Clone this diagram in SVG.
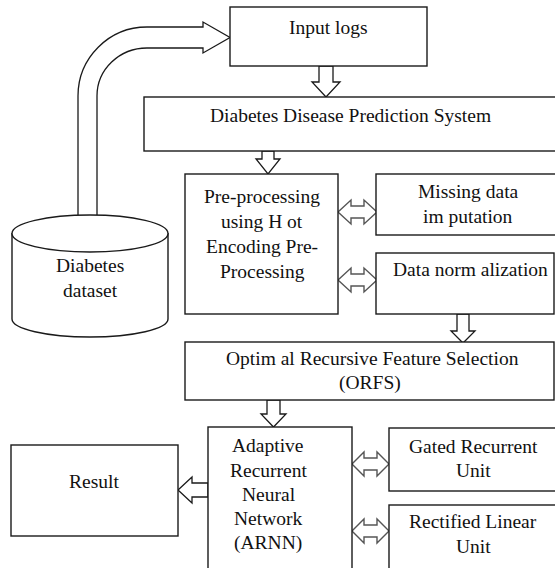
<svg xmlns="http://www.w3.org/2000/svg" width="555" height="568" viewBox="0 0 555 568">
  <rect width="555" height="568" fill="#ffffff"/>

  <!-- connectors: white block arrows with dark outlines -->
  <g id="connectors" fill="#ffffff" stroke="#1a1a1a" stroke-width="1.3" stroke-linejoin="miter">
    <!-- dataset to input logs, curved block arrow -->
    <path d="M 78 215 L 78 96 A 69 69 0 0 1 147 27 L 203 27 L 203 22 L 230 37.5 L 203 53 L 203 48 L 147 48 A 50 48 0 0 0 97 96 L 97 215"/>
    <!-- input logs down to prediction system -->
    <path d="M 319 66 L 333 66 L 333 82 L 340 82 L 326 97 L 312 82 L 319 82 Z"/>
    <!-- prediction system down to pre-processing -->
    <path d="M 262 151 L 274 151 L 274 159 L 280 159 L 268 174 L 256 159 L 262 159 Z"/>
    <!-- data normalization down to ORFS -->
    <path d="M 457 314 L 469 314 L 469 331 L 475 331 L 463 343 L 451 331 L 457 331 Z"/>
    <!-- ORFS down to ARNN -->
    <path d="M 267 400 L 280 400 L 280 414 L 286 414 L 273.5 427 L 261 414 L 267 414 Z"/>
    <!-- ARNN left to result -->
    <path d="M 208 483 L 192 483 L 192 477 L 178 490 L 192 503 L 192 497 L 208 497 Z"/>
    <!-- two-way links -->
    <g stroke="#555555" stroke-width="1.4">
      <path d="M 338 212 L 351 200 L 351 206 L 364 206 L 364 200 L 377 212 L 364 224 L 364 218 L 351 218 L 351 224 Z"/>
      <path d="M 338 280 L 351 268 L 351 274 L 364 274 L 364 268 L 377 280 L 364 292 L 364 286 L 351 286 L 351 292 Z"/>
      <path d="M 352 464 L 364 452 L 364 458 L 377 458 L 377 452 L 389 464 L 377 476 L 377 470 L 364 470 L 364 476 Z"/>
      <path d="M 352 531 L 364 519 L 364 525 L 377 525 L 377 519 L 389 531 L 377 543 L 377 537 L 364 537 L 364 543 Z"/>
    </g>
  </g>

  <!-- nodes: outlined shapes with serif labels (x values are left edges of centred lines) -->
  <g id="dataset">
    <path d="M 12 233 L 12 319 A 78 18 0 0 0 168 319 L 168 233" fill="#ffffff" stroke="#1a1a1a" stroke-width="1.4"/>
    <ellipse cx="90" cy="233.5" rx="78" ry="18.5" fill="#ffffff" stroke="#1a1a1a" stroke-width="1.4"/>
    <text x="56" y="272" font-size="19.5" font-family="Liberation Serif" fill="#111111">Diabetes</text>
    <text x="63" y="297" font-size="19.5" font-family="Liberation Serif" fill="#111111">dataset</text>
  </g>

  <g id="input-logs">
    <rect x="230" y="7" width="197" height="59" fill="#ffffff" stroke="#1a1a1a" stroke-width="1.4"/>
    <text x="289" y="34" font-size="19.5" font-family="Liberation Serif" fill="#111111">Input logs</text>
  </g>

  <g id="prediction-system">
    <rect x="144" y="97" width="416" height="54" fill="#ffffff" stroke="#1a1a1a" stroke-width="1.4"/>
    <text x="210" y="122" font-size="19.5" font-family="Liberation Serif" fill="#111111">Diabetes Disease Prediction System</text>
  </g>

  <g id="pre-processing">
    <rect x="185" y="174" width="153" height="140" fill="#ffffff" stroke="#1a1a1a" stroke-width="1.4"/>
    <text x="204" y="203" font-size="19.5" font-family="Liberation Serif" fill="#111111">Pre-processing</text>
    <text x="221" y="228" font-size="19.5" font-family="Liberation Serif" fill="#111111">using H ot</text>
    <text x="206" y="253" font-size="19.5" font-family="Liberation Serif" fill="#111111">Encoding Pre-</text>
    <text x="220" y="278" font-size="19.5" font-family="Liberation Serif" fill="#111111">Processing</text>
  </g>

  <g id="missing-data">
    <rect x="376" y="174" width="184" height="61" fill="#ffffff" stroke="#1a1a1a" stroke-width="1.4"/>
    <text x="418" y="198" font-size="19.5" font-family="Liberation Serif" fill="#111111">Missing data</text>
    <text x="423" y="223" font-size="19.5" font-family="Liberation Serif" fill="#111111">im putation</text>
  </g>

  <g id="normalization">
    <rect x="376" y="253" width="178" height="61" fill="#ffffff" stroke="#1a1a1a" stroke-width="1.4"/>
    <text x="393" y="276" font-size="19.5" font-family="Liberation Serif" fill="#111111">Data norm alization</text>
  </g>

  <g id="orfs">
    <rect x="185" y="342" width="369" height="58" fill="#ffffff" stroke="#1a1a1a" stroke-width="1.4"/>
    <text x="226" y="365" font-size="19.5" font-family="Liberation Serif" fill="#111111">Optim al Recursive Feature Selection</text>
    <text x="339" y="389" font-size="19.5" font-family="Liberation Serif" fill="#111111">(ORFS)</text>
  </g>

  <g id="arnn">
    <rect x="208" y="427" width="144" height="150" fill="#ffffff" stroke="#1a1a1a" stroke-width="1.4"/>
    <text x="232" y="452" font-size="19.5" font-family="Liberation Serif" fill="#111111">Adaptive</text>
    <text x="230" y="477" font-size="19.5" font-family="Liberation Serif" fill="#111111">Recurrent</text>
    <text x="242" y="501" font-size="19.5" font-family="Liberation Serif" fill="#111111">Neural</text>
    <text x="234" y="525" font-size="19.5" font-family="Liberation Serif" fill="#111111">Network</text>
    <text x="234" y="549" font-size="19.5" font-family="Liberation Serif" fill="#111111">(ARNN)</text>
  </g>

  <g id="result">
    <rect x="11" y="445" width="167" height="91" fill="#ffffff" stroke="#1a1a1a" stroke-width="1.4"/>
    <text x="69" y="488" font-size="19.5" font-family="Liberation Serif" fill="#111111">Result</text>
  </g>

  <g id="gru">
    <rect x="389" y="428" width="171" height="63" fill="#ffffff" stroke="#1a1a1a" stroke-width="1.4"/>
    <text x="409" y="453" font-size="19.5" font-family="Liberation Serif" fill="#111111">Gated Recurrent</text>
    <text x="456" y="477" font-size="19.5" font-family="Liberation Serif" fill="#111111">Unit</text>
  </g>

  <g id="relu">
    <rect x="389" y="505" width="171" height="72" fill="#ffffff" stroke="#1a1a1a" stroke-width="1.4"/>
    <text x="409" y="528" font-size="19.5" font-family="Liberation Serif" fill="#111111">Rectified Linear</text>
    <text x="456" y="553" font-size="19.5" font-family="Liberation Serif" fill="#111111">Unit</text>
  </g>
</svg>
